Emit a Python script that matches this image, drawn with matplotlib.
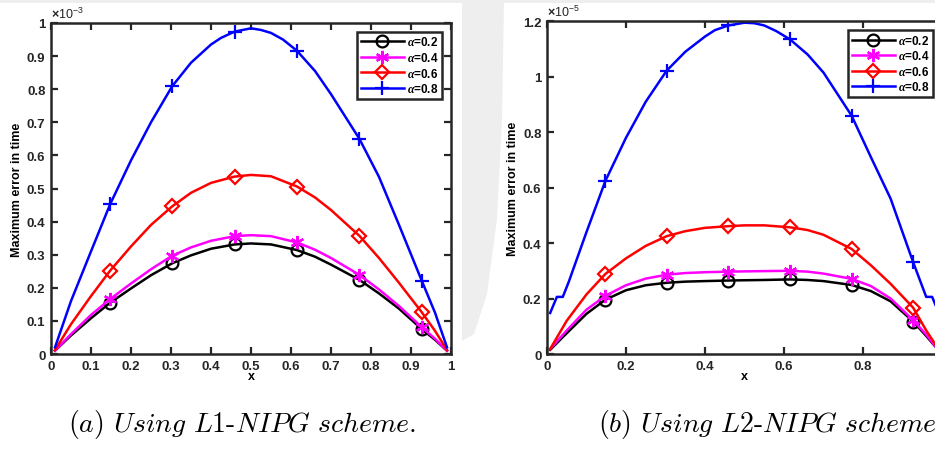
import numpy as np
import matplotlib
matplotlib.use('Agg')
import matplotlib.pyplot as plt
from matplotlib.patches import Polygon

plt.rcParams['font.family'] = 'Liberation Sans'
plt.rcParams['font.weight'] = 'bold'
plt.rcParams['mathtext.fontset'] = 'custom'
plt.rcParams['mathtext.rm'] = 'Liberation Sans'
plt.rcParams['mathtext.it'] = 'Liberation Serif:italic:bold'
plt.rcParams['mathtext.bf'] = 'Liberation Sans:bold'

alphas = [0.2, 0.4, 0.6, 0.8]
marker_x = [0.148, 0.303, 0.459, 0.615, 0.771, 0.927]

# L1-NIPG, max error in time (x 1e-3)
x_l1 = [0.01, 0.05, 0.10, 0.148, 0.20, 0.25, 0.303, 0.35, 0.40, 0.459, 0.50,
        0.55, 0.615, 0.66, 0.70, 0.771, 0.82, 0.87, 0.927, 0.96, 0.99]
l1_a02 = [0.01, 0.056, 0.108, 0.155, 0.198, 0.238, 0.274, 0.298, 0.318, 0.331, 0.334,
          0.331, 0.314, 0.294, 0.27, 0.224, 0.183, 0.137, 0.075, 0.043, 0.01]
l1_a04 = [0.01, 0.06, 0.118, 0.166, 0.213, 0.256, 0.297, 0.322, 0.342, 0.356, 0.359,
          0.356, 0.337, 0.315, 0.29, 0.239, 0.195, 0.145, 0.081, 0.046, 0.01]
l1_a06 = [0.012, 0.09, 0.175, 0.252, 0.325, 0.39, 0.446, 0.487, 0.517, 0.536, 0.541,
          0.537, 0.506, 0.473, 0.435, 0.357, 0.29, 0.215, 0.126, 0.07, 0.012]
x_l1_a08 = [0.01, 0.05, 0.10, 0.148, 0.20, 0.25, 0.303, 0.35, 0.40, 0.425, 0.459, 0.50,
            0.525, 0.55, 0.58, 0.615, 0.66, 0.70, 0.771, 0.82, 0.87, 0.927, 0.96, 0.99]
l1_a08 = [0.02, 0.16, 0.31, 0.453, 0.585, 0.70, 0.809, 0.88, 0.935, 0.955, 0.974, 0.984,
          0.979, 0.97, 0.95, 0.916, 0.855, 0.785, 0.65, 0.535, 0.39, 0.221, 0.125, 0.02]

# L2-NIPG, max error in time (x 1e-5)
x_l2 = [0.008, 0.05, 0.10, 0.148, 0.20, 0.25, 0.303, 0.35, 0.40, 0.459, 0.50,
        0.55, 0.615, 0.66, 0.70, 0.771, 0.82, 0.87, 0.927, 0.96, 0.992]
l2_a02 = [0.015, 0.075, 0.145, 0.196, 0.23, 0.248, 0.257, 0.261, 0.263, 0.265, 0.266,
          0.267, 0.269, 0.267, 0.263, 0.249, 0.227, 0.19, 0.117, 0.065, 0.012]
l2_a04 = [0.018, 0.085, 0.16, 0.21, 0.248, 0.272, 0.286, 0.292, 0.295, 0.297, 0.298,
          0.299, 0.300, 0.297, 0.29, 0.271, 0.245, 0.20, 0.122, 0.07, 0.012]
l2_a06 = [0.018, 0.12, 0.215, 0.289, 0.345, 0.39, 0.425, 0.443, 0.455, 0.461, 0.464,
          0.464, 0.457, 0.447, 0.43, 0.379, 0.32, 0.253, 0.167, 0.085, 0.015]
x_l2_a08 = [0.008, 0.025, 0.04, 0.055, 0.10, 0.148, 0.20, 0.25, 0.303, 0.35, 0.40, 0.425,
            0.459, 0.50, 0.525, 0.55, 0.58, 0.615, 0.66, 0.70, 0.771, 0.82, 0.87, 0.927,
            0.96, 0.975, 0.992]
l2_a08 = [0.148, 0.206, 0.206, 0.26, 0.44, 0.625, 0.78, 0.91, 1.022, 1.09, 1.145, 1.168,
          1.185, 1.195, 1.193, 1.185, 1.165, 1.135, 1.08, 1.015, 0.86, 0.71, 0.56, 0.331,
          0.206, 0.206, 0.148]

styles = [dict(color='k', marker='o', mfc='none', ms=8.5),
          dict(color='#FF00FF', marker=(6, 2, 0), ms=9.5),
          dict(color='#FF0000', marker='D', mfc='none', ms=7.5),
          dict(color='#0000FF', marker='+', ms=10.5)]

W, H = 935, 456
fig = plt.figure(figsize=(W / 100, H / 100), dpi=100)


def px(x, y):
    return (x / W, 1 - y / H)


# faint watermark in the page background
shapes = [[(462, 0), (504, 0), (502, 120), (497, 220), (487, 295), (474, 335), (462, 342)],
          [(0, 0), (W, 0), (W, 4), (0, 4)]]
for pts in shapes:
    fig.patches.append(Polygon([px(*p) for p in pts], closed=True, transform=fig.transFigure,
                               facecolor='#EEEEEE', edgecolor='none', zorder=-5))


def setup(ax, xticks, yticks, ylim, expo, xlabels=None):
    ax.set_xlim(0, 1)
    ax.set_ylim(*ylim)
    ax.set_xticks(xticks)
    ax.set_yticks(yticks)
    ax.set_xticklabels(xlabels or [f'{v:g}' for v in xticks])
    ax.set_yticklabels([f'{v:g}' for v in yticks])
    ax.tick_params(direction='in', top=True, right=True, length=5, width=1.6,
                   colors='#262626', labelsize=9.5, pad=4)
    for s in ax.spines.values():
        s.set_linewidth(1.8)
        s.set_color('#262626')
    ax.set_xlabel('x', fontsize=9, fontweight='bold', labelpad=-1)
    ax.set_ylabel('Maximum error in time', fontsize=9, fontweight='bold', labelpad=3)
    ax.text(0.0, 1.006, r'$\times\mathregular{10^{' + expo + '}}$', transform=ax.transAxes,
            fontsize=9, fontweight='normal', color='#262626', ha='left', va='bottom')


def draw(ax, xs, ys):
    for x, y, a, st in zip(xs, ys, alphas, styles):
        idx = [x.index(m) for m in marker_x]
        ax.plot(x, y, lw=1.8, markevery=idx, mew=1.6, label=r'$\alpha$=' + f'{a:g}', **st)
    leg = ax.legend(loc='upper right', fontsize=8.5, handlelength=3.6, numpoints=1,
                    fancybox=False, edgecolor='#262626', borderpad=0.3, labelspacing=0.22,
                    handletextpad=0.3, borderaxespad=0.75, framealpha=1)
    leg.get_frame().set_linewidth(1.8)


ax1 = fig.add_axes([51 / W, 1 - 355 / H, 400 / W, 331 / H])
draw(ax1, [x_l1, x_l1, x_l1, x_l1_a08], [l1_a02, l1_a04, l1_a06, l1_a08])
setup(ax1, np.round(np.arange(0, 1.01, 0.1), 1), np.round(np.arange(0, 1.01, 0.1), 1),
      (0, 1), '-3')

ax2 = fig.add_axes([547 / W, 1 - 355 / H, 395 / W, 332.7 / H])
draw(ax2, [x_l2, x_l2, x_l2, x_l2_a08], [l2_a02, l2_a04, l2_a06, l2_a08])
setup(ax2, np.round(np.arange(0, 1.01, 0.2), 1), np.round(np.arange(0, 1.21, 0.2), 1),
      (0, 1.2), '-5', xlabels=['0', '0.2', '0.4', '0.6', '0.8', ''])

cap = dict(fontsize=20, fontfamily='cmr10', fontweight='normal', math_fontfamily='cm',
           va='center', ha='left')
fig.text(*px(68, 425), r'($\mathit{a}$) $\mathit{Using\ L}$1-$\mathit{NIPG\ scheme}$.', **cap)
fig.text(*px(598, 425), r'($\mathit{b}$) $\mathit{Using\ L}$2-$\mathit{NIPG\ scheme}$.', **cap)

fig.savefig('out.png', dpi=100)
